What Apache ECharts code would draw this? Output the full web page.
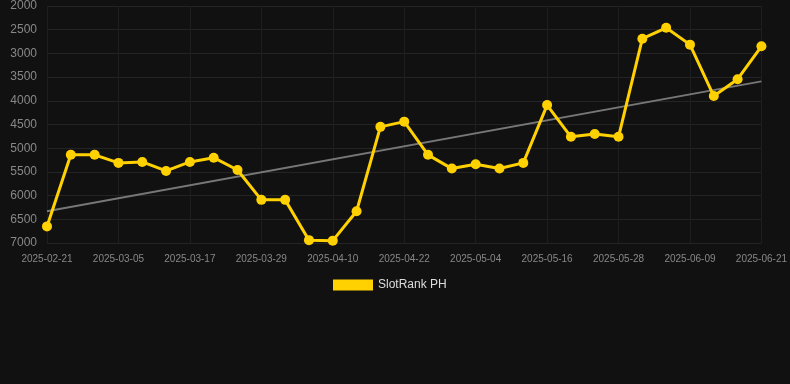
<!DOCTYPE html>
<html>
<head>
<meta charset="utf-8">
<script src="https://cdn.jsdelivr.net/npm/echarts@6/dist/echarts.min.js"></script>
<style>
html,body{margin:0;padding:0;background:#111111;}
#c{width:790px;height:384px;}
</style>
</head>
<body>
<div id="c"></div>
<script>
var categories = ["2025-02-21","2025-02-25","2025-03-01","2025-03-05","2025-03-09","2025-03-13","2025-03-17","2025-03-21","2025-03-25","2025-03-29","2025-04-02","2025-04-06","2025-04-10","2025-04-14","2025-04-18","2025-04-22","2025-04-26","2025-04-30","2025-05-04","2025-05-08","2025-05-12","2025-05-16","2025-05-20","2025-05-24","2025-05-28","2025-06-01","2025-06-05","2025-06-09","2025-06-13","2025-06-17","2025-06-21"];
var rankValues = [6650,5140,5140,5310,5290,5480,5290,5200,5460,6090,6090,6940,6950,6330,4550,4440,5140,5430,5340,5430,5310,4090,4760,4700,4760,2690,2460,2815,3900,3545,2850];
var trendStart = 6330;
var trendEnd = 3590;
var yTicks = {min: 2000, max: 7000, interval: 500};
var seriesName = "SlotRank PH";

var chart = echarts.init(document.getElementById('c'));
chart.setOption({
  backgroundColor: '#111111',
  animation: false,
  grid: {left: 47, right: 28, top: 6, bottom: 141},
  legend: {
    data: [{name: seriesName, icon: 'rect'}],
    left: 328, top: 274,
    itemWidth: 40, itemHeight: 11, itemGap: 10,
    textStyle: {color: '#dddddd', fontSize: 12, fontFamily: 'Arial, Liberation Sans, sans-serif'}
  },
  xAxis: {
    type: 'category',
    data: categories,
    boundaryGap: false,
    axisLine: {show: false},
    axisTick: {show: false},
    axisLabel: {interval: 2, color: '#888888', fontSize: 10, margin: 11, fontFamily: 'Arial, Liberation Sans, sans-serif'},
    splitLine: {show: true, interval: 2, lineStyle: {color: '#1e1e1e', width: 1}}
  },
  yAxis: {
    type: 'value',
    inverse: true,
    min: yTicks.min, max: yTicks.max, interval: yTicks.interval,
    axisLine: {show: false},
    axisTick: {show: false},
    axisLabel: {color: '#888888', fontSize: 12, margin: 10, fontFamily: 'Arial, Liberation Sans, sans-serif',
      formatter: function (v) { return String(v); }},
    splitLine: {show: true, lineStyle: {color: '#242424', width: 1}}
  },
  series: [
    {
      name: 'trend',
      type: 'line',
      data: [[categories[0], trendStart], [categories[categories.length - 1], trendEnd]],
      symbol: 'none',
      lineStyle: {color: '#777777', width: 2},
      z: 1,
      silent: true
    },
    {
      name: seriesName,
      type: 'line',
      data: rankValues,
      symbol: 'circle',
      symbolSize: 10,
      itemStyle: {color: '#FFD100'},
      lineStyle: {color: '#FFD100', width: 3},
      z: 3
    }
  ]
});
</script>
</body>
</html>
